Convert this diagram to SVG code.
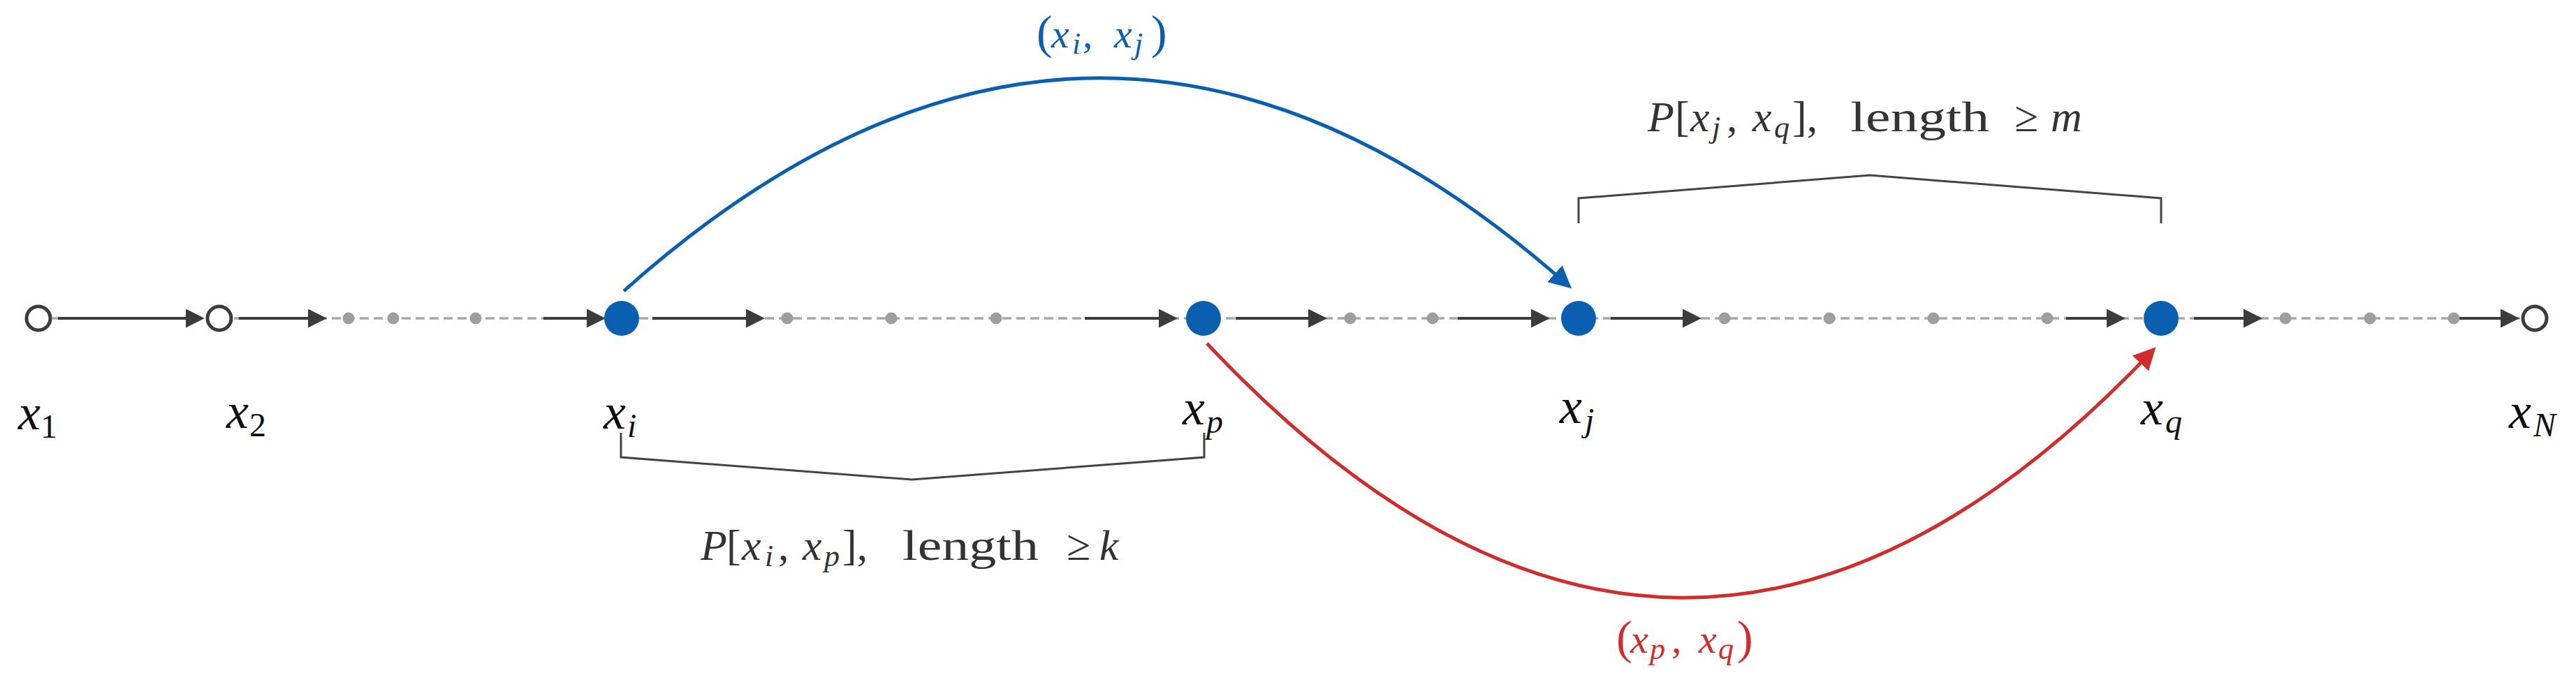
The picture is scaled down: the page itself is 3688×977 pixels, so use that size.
<svg xmlns="http://www.w3.org/2000/svg" width="3688" height="977" viewBox="0 0 3688 977">
<style>
.axis{stroke:#a8a8a8;stroke-width:3.5;stroke-dasharray:13 7;fill:none}
.seg{stroke:#3c3c3c;stroke-width:4;fill:none;marker-end:url(#ah)}
.dot{fill:#9e9e9e}
.open{fill:#fff;stroke:#3c3c3c;stroke-width:5}
.blue{fill:#0a5fb0}
.nl{font-family:"Liberation Serif",serif;font-style:italic;font-size:72px;fill:#111}
.sub{font-size:48px}
.rm{font-style:normal}
.bl{font-family:"Liberation Serif",serif;font-size:62px;fill:#333}
.it{font-style:italic}
.bs{font-size:44px;font-style:italic}
.brk{fill:none;stroke:#444;stroke-width:3}
.eb{fill:none;stroke:#0a5fb0;stroke-width:5;marker-end:url(#ahb)}
.er{fill:none;stroke:#d12b2b;stroke-width:5;marker-end:url(#ahr)}
.elb{font-family:"Liberation Serif",serif;font-size:58px;fill:#0a5fb0}
.elr{font-family:"Liberation Serif",serif;font-size:58px;fill:#d12b2b}
</style>
<defs>
<marker id="ah" markerUnits="userSpaceOnUse" markerWidth="27" markerHeight="27" refX="23" refY="13.5" orient="auto"><path d="M0,0 L27,13.5 L0,27 z" fill="#3c3c3c"/></marker>
<marker id="ahb" markerUnits="userSpaceOnUse" markerWidth="32" markerHeight="32" refX="24" refY="16" orient="auto"><path d="M0,0 L32,16 L0,32 z" fill="#0a5fb0"/></marker>
<marker id="ahr" markerUnits="userSpaceOnUse" markerWidth="32" markerHeight="32" refX="24" refY="16" orient="auto"><path d="M0,0 L32,16 L0,32 z" fill="#d12b2b"/></marker>
</defs>
<rect width="3688" height="977" fill="#fff"/>

<g id="connectors">
<line class="axis" x1="55" y1="456" x2="3629" y2="456"/>
<line class="seg" x1="83" y1="456" x2="289" y2="456"/>
<line class="seg" x1="342" y1="456" x2="464" y2="456"/>
<line class="seg" x1="778" y1="456" x2="863" y2="456"/>
<line class="seg" x1="934" y1="456" x2="1091" y2="456"/>
<line class="seg" x1="1553" y1="456" x2="1682" y2="456"/>
<line class="seg" x1="1769" y1="456" x2="1896" y2="456"/>
<line class="seg" x1="2087" y1="456" x2="2215" y2="456"/>
<line class="seg" x1="2306" y1="456" x2="2432" y2="456"/>
<line class="seg" x1="2958" y1="456" x2="3039" y2="456"/>
<line class="seg" x1="3141" y1="456" x2="3235" y2="456"/>
<line class="seg" x1="3520" y1="456" x2="3603" y2="456"/>
<path id="edge-ij" class="eb" d="M893,417 Q1571,-189 2244,408"/>
<path id="edge-pq" class="er" d="M1728,492 Q2407,1215 3081,503"/>
</g>

<g id="ellipsis-dots">
<circle class="dot" cx="499" cy="456" r="8.5"/>
<circle class="dot" cx="563" cy="456" r="8.5"/>
<circle class="dot" cx="681" cy="456" r="8.5"/>
<circle class="dot" cx="1127" cy="456" r="8.5"/>
<circle class="dot" cx="1276" cy="456" r="8.5"/>
<circle class="dot" cx="1426" cy="456" r="8.5"/>
<circle class="dot" cx="1933" cy="456" r="8.5"/>
<circle class="dot" cx="2051" cy="456" r="8.5"/>
<circle class="dot" cx="2469" cy="456" r="8.5"/>
<circle class="dot" cx="2619" cy="456" r="8.5"/>
<circle class="dot" cx="2768" cy="456" r="8.5"/>
<circle class="dot" cx="2931" cy="456" r="8.5"/>
<circle class="dot" cx="3272" cy="456" r="8.5"/>
<circle class="dot" cx="3393" cy="456" r="8.5"/>
<circle class="dot" cx="3513" cy="456" r="8.5"/>
</g>

<g id="node-x1">
<circle class="open" cx="55" cy="456" r="17"/>
<text class="nl" x="26" y="615">x<tspan class="sub rm" x="58" y="627">1</tspan></text>
</g>
<g id="node-x2">
<circle class="open" cx="314" cy="456" r="17"/>
<text class="nl" x="324" y="613">x<tspan class="sub rm" x="357" y="625">2</tspan></text>
</g>
<g id="node-xi">
<circle class="blue" cx="890" cy="456" r="25"/>
<text class="nl" x="864" y="614">x<tspan class="sub" x="898" y="626">i</tspan></text>
</g>
<g id="node-xp">
<circle class="blue" cx="1723" cy="456" r="25"/>
<text class="nl" x="1693" y="608">x<tspan class="sub" x="1727" y="620">p</tspan></text>
</g>
<g id="node-xj">
<circle class="blue" cx="2260" cy="456" r="25"/>
<text class="nl" x="2233" y="606">x<tspan class="sub" x="2269" y="618">j</tspan></text>
</g>
<g id="node-xq">
<circle class="blue" cx="3094" cy="456" r="25"/>
<text class="nl" x="3065" y="608">x<tspan class="sub" x="3100" y="620">q</tspan></text>
</g>
<g id="node-xN">
<circle class="open" cx="3629" cy="456" r="17"/>
<text class="nl" x="3592" y="613">x<tspan class="sub" x="3627" y="625">N</tspan></text>
</g>

<g id="bracket-ip">
<polyline class="brk" points="889,620 889,655 1306,687 1724,655 1724,620"/>
<text class="bl"><tspan class="it" x="1003" y="802">P</tspan><tspan x="1040" y="802">[</tspan><tspan class="it" x="1062" y="802">x</tspan><tspan class="bs" x="1095" y="811">i</tspan><tspan x="1114" y="802">,</tspan><tspan class="it" x="1149" y="802">x</tspan><tspan class="bs" x="1180" y="811">p</tspan><tspan x="1206" y="802">],</tspan></text>
<text class="bl" x="1292" y="802" font-size="68" textLength="195" lengthAdjust="spacingAndGlyphs">length</text>
<text class="bl"><tspan x="1527" y="802">≥</tspan><tspan class="it" x="1574" y="802">k</tspan></text>
</g>

<g id="bracket-jq">
<polyline class="brk" points="2260,320 2260,284 2677,251 3094,284 3094,320"/>
<text class="bl"><tspan class="it" x="2359" y="188">P</tspan><tspan x="2398" y="188">[</tspan><tspan class="it" x="2420" y="188">x</tspan><tspan class="bs" x="2451" y="197">j</tspan><tspan x="2472" y="188">,</tspan><tspan class="it" x="2509" y="188">x</tspan><tspan class="bs" x="2540" y="197">q</tspan><tspan x="2566" y="188">],</tspan></text>
<text class="bl" x="2649" y="188" font-size="68" textLength="199" lengthAdjust="spacingAndGlyphs">length</text>
<text class="bl"><tspan x="2884" y="188">≥</tspan><tspan class="it" x="2936" y="188">m</tspan></text>
</g>

<g id="label-ij">
<text class="elb"><tspan x="1484" y="69" font-size="68">(</tspan><tspan class="it" x="1505" y="68">x</tspan><tspan class="bs" x="1535" y="77">i</tspan><tspan x="1550" y="68">,</tspan><tspan class="it" x="1595" y="68">x</tspan><tspan class="bs" x="1624" y="77">j</tspan><tspan x="1648" y="69" font-size="68">)</tspan></text>
</g>
<g id="label-pq">
<text class="elr"><tspan x="2314" y="936" font-size="68">(</tspan><tspan class="it" x="2334" y="935">x</tspan><tspan class="bs" x="2362" y="944">p</tspan><tspan x="2393" y="935">,</tspan><tspan class="it" x="2432" y="935">x</tspan><tspan class="bs" x="2460" y="944">q</tspan><tspan x="2487" y="936" font-size="68">)</tspan></text>
</g>
</svg>
